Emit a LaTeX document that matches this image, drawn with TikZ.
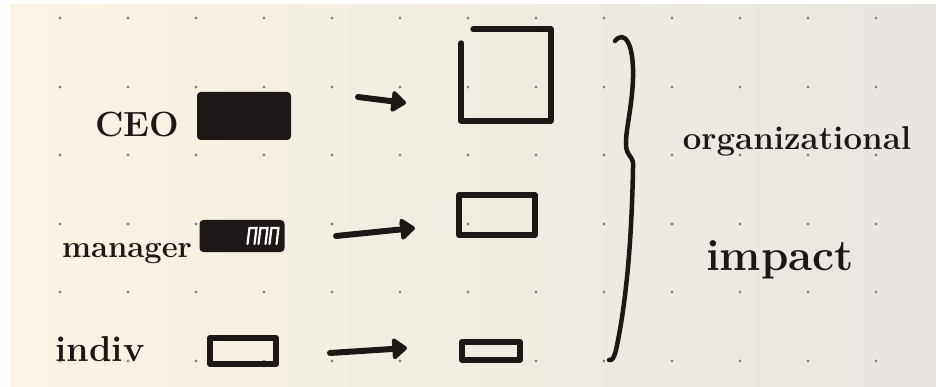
\documentclass[tikz,border=0pt]{standalone}
\usetikzlibrary{arrows.meta}
\definecolor{ink}{HTML}{1E1717}
\definecolor{paperA}{HTML}{FAF4E4}
\definecolor{paperB}{HTML}{E8E5E1}
\definecolor{dotc}{HTML}{8C8681}
\begin{document}
\begin{tikzpicture}[x=1pt,y=-1pt,
  inkline/.style={draw=ink,line width=6pt,line cap=round,line join=round},
  lbl/.style={text=ink,inner sep=0pt,anchor=base,font=\bfseries},
  fillbox/.style={fill=ink,draw=ink,line width=2pt,rounded corners=3pt,inner sep=0pt},
  openbox/.style={inkline,inner sep=0pt},
  ghost/.style={inner sep=0pt,minimum width=#1},
  arr/.style={inkline,-{Triangle[length=16pt,width=24pt,round]}},
  gdot/.style={fill=dotc,draw=none}
]
\useasboundingbox (0,0) rectangle (936,387);
\fill[white] (0,0) rectangle (936,387);
\shade[left color=paperA,right color=paperB] (10,5) rectangle (936,387);
% dot grid
\foreach \x in {60,128,196,264,332,400,468,536,604,672,740,808,876}
  \foreach \y in {18,87,155,224,292,361}
    \fill[gdot] (\x,\y) circle (1.6pt);
% left labels
\node[lbl,font=\bfseries\fontsize{35}{38}\selectfont] (ceo) at (137,137) {CEO};
\node[lbl,font=\bfseries\fontsize{31}{34}\selectfont] (mgr) at (127,257) {manager};
\node[lbl,font=\bfseries\fontsize{36}{40}\selectfont] (ind) at (100,361) {indiv};
% left boxes
\node[fillbox,minimum width=92pt,minimum height=46pt] (ceob) at (244,116) {};
\node[fillbox,minimum width=83pt,minimum height=30pt] (mgrb) at (242,236) {};
\foreach \i in {0,1,2}
  \draw[white,line width=2.2pt,line cap=round]
    ([xshift={-37pt+11*\i pt},yshift=-8pt]mgrb.east) -- ([xshift={-35pt+11*\i pt},yshift=8pt]mgrb.east)
    -- ([xshift={-28pt+11*\i pt},yshift=8pt]mgrb.east) -- ([xshift={-30pt+11*\i pt},yshift=-8pt]mgrb.east);
\node[openbox,minimum width=66pt,minimum height=26pt] (indb) at (243,351) {};
% right boxes
\node[ghost=89pt,minimum height=91pt] (big) at (506,75) {};
\draw[inkline] ([xshift=12pt]big.north west) -- (big.north east) -- (big.south east)
  -- (big.south west) -- ([yshift=-14pt]big.north west);
\node[openbox,minimum width=76pt,minimum height=40pt] (medb) at (497,215) {};
\node[openbox,minimum width=58pt,minimum height=18pt] (smlb) at (491,351) {};
% arrows
\coordinate (a1s) at (358,97);  \coordinate (a1e) at (406,103);
\coordinate (a2s) at (336,236); \coordinate (a2e) at (415,228);
\coordinate (a3s) at (330,353); \coordinate (a3e) at (407,348);
\draw[arr] (a1s) -- (a1e);
\draw[arr] (a2s) -- (a2e);
\draw[arr] (a3s) -- (a3e);
% brace
\draw[draw=ink,line width=4.5pt,line cap=round]
  (615,41) .. controls (624,30) and (634,42) .. (633,78)
  .. controls (632,112) and (623,138) .. (627,151)
  .. controls (629,157) and (634,157) .. (633,168)
  .. controls (632,225) and (628,295) .. (616,350)
  .. controls (614,358) and (612,361) .. (609,360);
% right labels
\node[lbl,font=\bfseries\fontsize{33}{36}\selectfont] (org) at (797,150) {organizational};
\node[lbl,font=\bfseries\fontsize{44}{48}\selectfont] (imp) at (780,270) {impact};
\end{tikzpicture}
\end{document}
